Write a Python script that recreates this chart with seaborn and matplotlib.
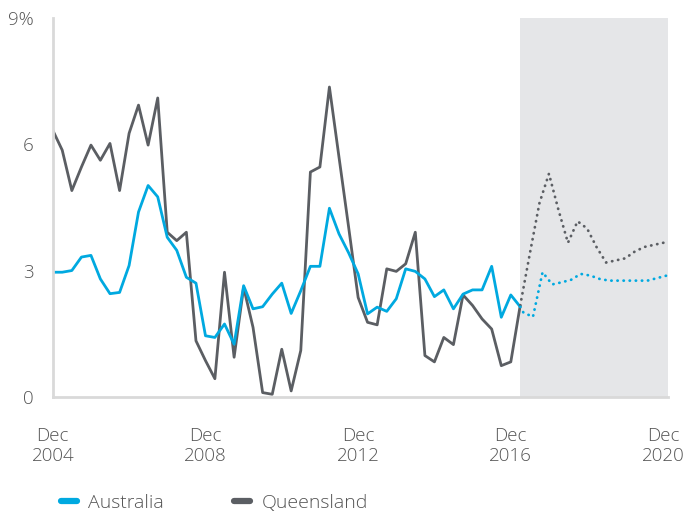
import pandas as pd
import seaborn as sns
import matplotlib.pyplot as plt
from matplotlib.lines import Line2D

# historical quarterly data, Dec 2004 - Mar 2017 (%)
hist_dates = pd.date_range("2004-12-01", periods=50, freq="3MS")
australia = [2.96, 2.96, 3.00, 3.32, 3.36, 2.80, 2.45, 2.48, 3.12, 4.39,
             5.02, 4.75, 3.79, 3.48, 2.84, 2.70, 1.45, 1.41, 1.73, 1.25,
             2.64, 2.09, 2.14, 2.44, 2.70, 1.98, 2.52, 3.10, 3.10, 4.48,
             3.87, 3.42, 2.92, 1.97, 2.13, 2.03, 2.33, 3.04, 2.98, 2.80,
             2.38, 2.54, 2.09, 2.44, 2.54, 2.54, 3.10, 1.89, 2.42, 2.14]
queensland = [6.33, 5.86, 4.90, 5.46, 5.98, 5.62, 6.02, 4.90, 6.26, 6.93,
              5.98, 7.10, 3.91, 3.71, 3.91, 1.33, 0.86, 0.43, 2.96, 0.94,
              2.60, 1.65, 0.10, 0.06, 1.13, 0.14, 1.10, 5.34, 5.46, 7.36,
              5.69, 4.03, 2.36, 1.77, 1.71, 3.04, 2.98, 3.16, 3.91, 0.98,
              0.83, 1.41, 1.24, 2.42, 2.17, 1.85, 1.61, 0.74, 0.83, 2.17]

# forecasts
aus_fc_dates = pd.to_datetime(["2017-03-01", "2017-04-01", "2017-07-01", "2017-10-01",
                               "2018-01-01", "2018-04-01", "2018-07-01", "2018-10-01",
                               "2019-01-01", "2019-04-01", "2019-07-01", "2019-10-01",
                               "2020-01-01", "2020-04-01", "2020-07-01", "2020-10-01",
                               "2021-01-01"])
aus_fc = [2.14, 2.00, 1.90, 2.96, 2.67, 2.72, 2.78, 2.92, 2.88, 2.80, 2.76,
          2.76, 2.76, 2.76, 2.76, 2.82, 2.88]
qld_fc_dates = pd.date_range("2017-03-01", periods=16, freq="3MS")
qld_fc = [2.17, 3.40, 4.60, 5.30, 4.45, 3.66, 4.17, 4.00, 3.56, 3.19,
          3.24, 3.29, 3.45, 3.56, 3.61, 3.66]

tick_years = [2004, 2008, 2012, 2016, 2020]
blue = "#00A9E0"
grey = "#5B5E63"
text_col = "#555555"

sns.set_style("white")
plt.rcParams["font.family"] = ["Open Sans", "DejaVu Sans"]
plt.rcParams["font.weight"] = "light"

fig = plt.figure(figsize=(6.86, 5.14), dpi=100)
ax = fig.add_axes([0.077, 0.228, 0.897, 0.737])

fc_start = pd.Timestamp("2017-03-01")
x_end = pd.Timestamp("2021-01-15")
ax.axvspan(fc_start, x_end, color="#E5E6E8", lw=0, zorder=0)

hist = pd.DataFrame({"date": hist_dates, "Australia": australia, "Queensland": queensland})
sns.lineplot(data=hist, x="date", y="Queensland", ax=ax, color=grey, linewidth=2.0)
sns.lineplot(data=hist, x="date", y="Australia", ax=ax, color=blue, linewidth=2.0)

dots = (0, (0.1, 2.1))
sns.lineplot(x=qld_fc_dates, y=qld_fc, ax=ax, color=grey, linewidth=2.0,
             linestyle=dots, dash_capstyle="round")
sns.lineplot(x=aus_fc_dates, y=aus_fc, ax=ax, color=blue, linewidth=2.0,
             linestyle=dots, dash_capstyle="round")

ax.set_xlim(pd.Timestamp("2004-12-01"), x_end)
ax.set_ylim(0, 9)
ax.set_yticks([0, 3, 6, 9])
ax.set_yticklabels(["0", "3", "6", "9%"])
ax.set_xticks([pd.Timestamp(f"{y}-12-01") for y in tick_years])
ax.set_xticklabels([f"Dec\n{y}" for y in tick_years], linespacing=1.1)
ax.tick_params(axis="both", length=0, labelsize=13.5, colors=text_col)
ax.tick_params(axis="x", pad=22)
ax.tick_params(axis="y", pad=14)
ax.set_xlabel("")
ax.set_ylabel("")

for side in ["top", "right"]:
    ax.spines[side].set_visible(False)
for side in ["left", "bottom"]:
    ax.spines[side].set_color("#D9D9D9")
    ax.spines[side].set_linewidth(2)

handles = [Line2D([], [], color=blue, lw=4.5, solid_capstyle="round"),
           Line2D([], [], color=grey, lw=4.5, solid_capstyle="round")]
fig.legend(handles, ["Australia", "Queensland"], loc="lower left",
           bbox_to_anchor=(0.072, -0.018), ncol=2, frameon=False, borderaxespad=0.2,
           handlelength=0.8, handletextpad=0.6, columnspacing=3.6,
           fontsize=14, labelcolor=text_col)

fig.savefig("out.png", dpi=100)
